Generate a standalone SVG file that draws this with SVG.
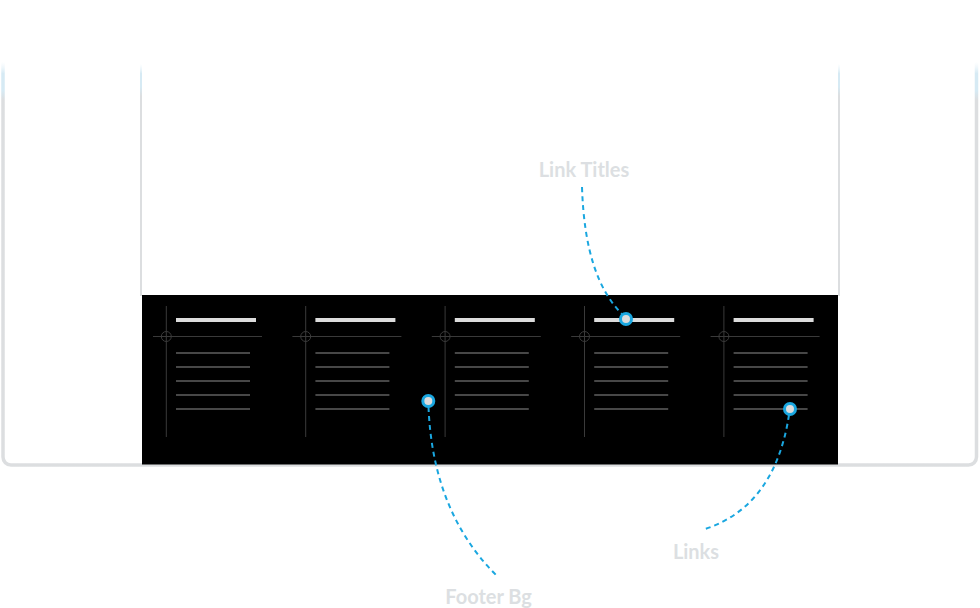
<svg xmlns="http://www.w3.org/2000/svg" width="980" height="608" viewBox="0 0 980 608">
  <style>
    .frame { fill: none; stroke: url(#fade); stroke-width: 3.5; }
    .inner { fill: none; stroke: url(#fade2); stroke-width: 2; }
    .axis { stroke: #3a3a3a; stroke-width: 1; fill: none; }
    .title { fill: #dcdcdc; }
    .link { stroke: #474747; stroke-width: 2; }
    .conn { fill: none; stroke: #1aa7e0; stroke-width: 2; stroke-dasharray: 5 4; }
    .dot { fill: #dcdcdc; stroke: #1aa7e0; stroke-width: 3; }
    .label { font-family: Lato, "Liberation Sans", sans-serif; font-weight: bold; font-size: 20px; fill: #dcdfe2; text-anchor: middle; }
  </style>
  <defs>
    <linearGradient id="fade" gradientUnits="userSpaceOnUse" x1="0" y1="62" x2="0" y2="100">
      <stop offset="0" stop-color="#e4f2f9" stop-opacity="0"/>
      <stop offset="0.3" stop-color="#d6eaf4"/>
      <stop offset="0.75" stop-color="#d6eaf4"/>
      <stop offset="1" stop-color="#dcdee0"/>
    </linearGradient>
    <linearGradient id="fade2" gradientUnits="userSpaceOnUse" x1="0" y1="64" x2="0" y2="96">
      <stop offset="0" stop-color="#e4f2f9" stop-opacity="0"/>
      <stop offset="0.3" stop-color="#d6eaf4"/>
      <stop offset="0.7" stop-color="#d6eaf4"/>
      <stop offset="1" stop-color="#dcdee0"/>
    </linearGradient>
    <g id="col">
      <line class="axis" x1="166.3" y1="306" x2="166.3" y2="437"/>
      <line class="axis" x1="153" y1="336.5" x2="262" y2="336.5"/>
      <circle class="axis" cx="166.3" cy="336.5" r="5" fill="#000"/>
      <rect class="title" x="176" y="318" width="80" height="4"/>
      <line class="link" x1="176" y1="353" x2="250" y2="353"/>
      <line class="link" x1="176" y1="367" x2="250" y2="367"/>
      <line class="link" x1="176" y1="381" x2="250" y2="381"/>
      <line class="link" x1="176" y1="395" x2="250" y2="395"/>
      <line class="link" x1="176" y1="409" x2="250" y2="409"/>
    </g>
  </defs>
  <rect width="980" height="608" fill="#fff"/>
  <g id="browser-frame">
    <path class="frame" d="M3,60 V457 A8,8 0 0 0 11,465 H968.5 A8,8 0 0 0 976.5,457 V60"/>
    <line class="inner" x1="141" y1="62" x2="141" y2="296"/>
    <line class="inner" x1="839" y1="62" x2="839" y2="296"/>
  </g>
  <g id="footer">
    <rect x="142" y="295" width="696" height="169.5" fill="#000"/>
    <use href="#col"/>
    <use href="#col" transform="translate(139.4 0)"/>
    <use href="#col" transform="translate(278.8 0)"/>
    <use href="#col" transform="translate(418.2 0)"/>
    <use href="#col" transform="translate(557.6 0)"/>
  </g>
  <g id="connectors">
    <path class="conn" d="M582,187 C584,250 598,290 622,314"/>
    <path class="conn" d="M428.5,407 C431,470 450,530 498,577"/>
    <path class="conn" d="M789,415 C782,460 762,512 702,530"/>
  </g>
  <g id="dot-link-titles"><circle class="dot" cx="626" cy="319" r="5.5"/></g>
  <g id="dot-footer-bg"><circle class="dot" cx="428.3" cy="401" r="5.5"/></g>
  <g id="dot-links"><circle class="dot" cx="790" cy="409" r="5.5"/></g>
  <g id="label-link-titles"><text class="label" x="584" y="177">Link Titles</text></g>
  <g id="label-links"><text class="label" x="696" y="559">Links</text></g>
  <g id="label-footer-bg"><text class="label" x="488.5" y="604">Footer Bg</text></g>
</svg>
